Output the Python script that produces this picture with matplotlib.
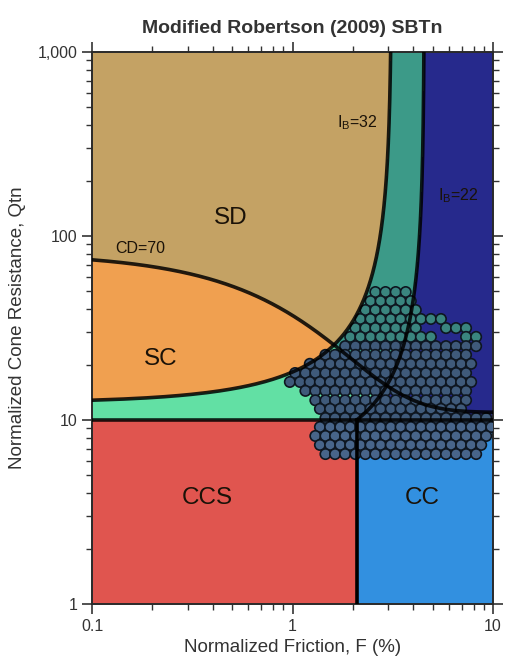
import numpy as np
import matplotlib
matplotlib.use("Agg")
import matplotlib.pyplot as plt
from matplotlib.colors import ListedColormap, BoundaryNorm
from matplotlib.ticker import FixedLocator, FixedFormatter, NullFormatter, LogLocator

# ---------------- text / ticks ----------------
title = "Modified Robertson (2009) SBTn"
x_label = "Normalized Friction, F (%)"
y_label = "Normalized Cone Resistance, Qtn"
x_ticks = [0.1, 1, 10]
x_tick_labels = ["0.1", "1", "10"]
y_ticks = [1, 10, 100, 1000]
y_tick_labels = ["1", "10", "100", "1,000"]

# ---------------- chart boundary parameters ----------------
ib_sand = 32      # IB boundary sand-like / transitional
ib_clay = 22      # IB boundary transitional / clay-like
cd_limit = 70     # CD boundary dilative / contractive
q_split = 10      # horizontal boundary Qtn

zone_names = ["SD", "SC", "TD", "TC", "CD", "CCS", "CC"]
zone_colors = ["#c4a264", "#f0a050", "#3c9a88", "#62e0a4", "#26298c", "#e0554f", "#3290e0"]

# ---------------- CPT data ----------------
qtn_row_levels = [49.6, 44.3, 39.6, 35.4, 31.6, 28.3, 25.2, 22.6, 20.2, 18.0,
                  16.1, 14.4, 12.8, 11.5, 10.25, 9.16, 8.19, 7.32, 6.53]
friction_by_row = [
    [2.59, 2.91, 3.27, 3.67],
    [2.45, 2.75, 3.09, 3.46, 3.89],
    [2.31, 2.59, 2.91, 3.27, 3.67, 4.12],
    [2.18, 2.45, 2.75, 3.09, 3.46, 3.89, 4.37, 4.90, 5.50],
    [2.06, 2.31, 2.59, 2.91, 3.27, 3.67, 4.12, 5.83, 6.54, 7.34],
    [1.94, 2.18, 2.45, 2.75, 3.09, 3.46, 3.89, 4.37, 4.90, 7.34, 8.24],
    [1.83, 2.06, 2.31, 2.59, 2.91, 3.27, 3.67, 4.12, 4.63, 5.19, 5.83, 6.54, 7.34, 8.24],
    [1.46, 1.63, 1.83, 2.06, 2.31, 2.59, 2.91, 3.27, 3.67, 4.12, 4.63, 5.19, 5.83, 6.54, 7.34],
    [1.22, 1.37, 1.54, 1.73, 1.94, 2.18, 2.45, 2.75, 3.09, 3.46, 3.89, 4.37, 4.90, 5.50, 6.18, 6.93, 7.78],
    [1.03, 1.16, 1.30, 1.46, 1.63, 1.83, 2.06, 2.31, 2.59, 2.91, 3.27, 3.67, 4.12, 4.63, 5.19, 5.83, 6.54, 7.34],
    [0.97, 1.09, 1.22, 1.37, 1.54, 1.73, 1.94, 2.18, 2.45, 2.75, 3.09, 3.46, 3.89, 4.37, 4.90, 5.50, 6.18, 6.93, 7.78],
    [1.16, 1.30, 1.46, 1.63, 1.83, 2.06, 2.31, 2.59, 2.91, 3.27, 3.67, 4.12, 4.63, 5.19, 5.83, 6.54, 7.34],
    [1.30, 1.46, 1.63, 1.83, 2.06, 2.31, 2.59, 2.91, 3.27, 3.67, 4.12, 4.63, 5.19, 5.83, 6.54, 7.34],
    [1.37, 1.54, 1.73, 1.94, 2.18, 2.45, 2.75, 3.09, 3.46, 3.89, 4.37, 4.90, 5.50, 6.18, 6.93],
    [1.46, 1.63, 1.83, 2.06, 2.31, 2.59, 2.91, 3.27, 3.67, 4.12, 4.63, 5.19, 5.83, 6.54, 7.34, 8.24, 9.25],
    [1.37, 1.54, 1.73, 1.94, 2.18, 2.45, 2.75, 3.09, 3.46, 3.89, 4.37, 4.90, 5.50, 6.18, 6.93, 7.78, 8.73, 9.80],
    [1.30, 1.46, 1.63, 1.83, 2.06, 2.31, 2.59, 2.91, 3.27, 3.67, 4.12, 4.63, 5.19, 5.83, 6.54, 7.34, 8.24, 9.25],
    [1.37, 1.54, 1.73, 1.94, 2.18, 2.45, 2.75, 3.09, 3.46, 3.89, 4.37, 4.90, 5.50, 6.18, 6.93, 7.78, 8.73],
    [1.46, 1.63, 1.83, 2.06, 2.31, 2.59, 2.91, 3.27, 3.67, 4.12, 4.63, 5.19, 5.83, 6.54, 7.34, 8.24],
]

# ---------------- figure ----------------
plt.rcParams['font.family'] = ['Liberation Sans', 'DejaVu Sans']
fig = plt.figure(figsize=(5.09, 6.69), dpi=100)
ax = fig.add_axes([92 / 509, 65 / 669, 401 / 509, 552 / 669])
ax.set_xscale('log')
ax.set_yscale('log')
ax.set_xlim(0.1, 10)
ax.set_ylim(1, 1000)


def ib_curve_f(q, ib):
    return (100.0 * (q + 10.0) / ib - 70.0) / q


# zone map
fe = np.logspace(-1, 1, 801)
qe = np.logspace(0, 3, 1201)
fc = np.sqrt(fe[:-1] * fe[1:])
qc = np.sqrt(qe[:-1] * qe[1:])
FF, QQ = np.meshgrid(fc, qc)
IB = 100.0 * (QQ + 10.0) / (QQ * FF + 70.0)
CD = (QQ - 11.0) * (1.0 + 0.06 * FF) ** 17
f_split = ib_curve_f(q_split, ib_clay)
zone = np.where(QQ < q_split,
                np.where(FF < f_split, 5, 6),
                np.where(IB > ib_sand, np.where(CD > cd_limit, 0, 1),
                         np.where(IB > ib_clay, np.where(CD > cd_limit, 2, 3), 4)))
cmap = ListedColormap(zone_colors)
norm = BoundaryNorm(np.arange(-0.5, len(zone_colors) + 0.5, 1), cmap.N)
ax.pcolormesh(fe, qe, zone, cmap=cmap, norm=norm, shading='flat', rasterized=True, zorder=0)

# data points
pts_f = []
pts_q = []
for q, row in zip(qtn_row_levels, friction_by_row):
    for f in row:
        pts_f.append(f)
        pts_q.append(q)
pts_f = np.array(pts_f)
pts_q = np.array(pts_q)
face = np.where(pts_q >= 27, '#3a857f', np.where(pts_q > 10, '#3f5a7a', '#48658a'))
ax.scatter(pts_f, pts_q, s=56, c=face, edgecolors='#0e1620', linewidths=1.2, zorder=3)

# boundary lines
lw = 2.6
fl = np.logspace(-1, 1, 600)
ax.plot(fl, 11.0 + cd_limit / (1.0 + 0.06 * fl) ** 17, color='black', lw=lw, zorder=4, alpha=0.85)
q32 = np.logspace(np.log10(12.81), 3, 600)
ax.plot(ib_curve_f(q32, ib_sand), q32, color='black', lw=lw, zorder=4, alpha=0.85)
q22 = np.logspace(1, 3, 600)
ax.plot(ib_curve_f(q22, ib_clay), q22, color='black', lw=lw, zorder=4, alpha=0.85)
ax.plot([0.1, 10], [q_split, q_split], color='black', lw=lw, zorder=4, alpha=0.85)
ax.plot([f_split, f_split], [1, q_split], color='black', lw=lw, zorder=4)

# labels in zones
lab_kw = dict(ha='center', va='center', fontsize=17.5, color='#1a1208', zorder=5)
ax.text(0.49, 125, "SD", **lab_kw)
ax.text(0.22, 21.5, "SC", **lab_kw)
ax.text(0.375, 3.75, "CCS", **lab_kw)
ax.text(4.45, 3.75, "CC", **lab_kw)
small_kw = dict(ha='center', va='center', fontsize=11.5, color='#1a1208', zorder=5)
ax.text(0.175, 85, "CD=70", **small_kw)
ax.text(2.10, 415, r"I$_\mathregular{B}$=32", **small_kw)
ax.text(6.7, 165, r"I$_\mathregular{B}$=22", **small_kw)

# axes styling
ax.xaxis.set_major_locator(FixedLocator(x_ticks))
ax.xaxis.set_major_formatter(FixedFormatter(x_tick_labels))
ax.yaxis.set_major_locator(FixedLocator(y_ticks))
ax.yaxis.set_major_formatter(FixedFormatter(y_tick_labels))
ax.xaxis.set_minor_locator(LogLocator(base=10, subs=np.arange(2, 10)))
ax.yaxis.set_minor_locator(LogLocator(base=10, subs=np.arange(2, 10)))
ax.xaxis.set_minor_formatter(NullFormatter())
ax.yaxis.set_minor_formatter(NullFormatter())
ax.tick_params(which='both', direction='out', top=True, right=True,
               labeltop=False, labelright=False, colors='#333333', labelsize=11.5)
ax.tick_params(which='major', length=7, width=1.2)
ax.tick_params(which='minor', length=4, width=1.0)
for s in ax.spines.values():
    s.set_color('#2a2a2a')
    s.set_linewidth(1.4)

ax.set_xlabel(x_label, fontsize=13.5, color='#333333', labelpad=4)
ax.set_ylabel(y_label, fontsize=13.5, color='#333333', labelpad=8)
ax.set_title(title, fontsize=14, fontweight='bold', color='#333333', pad=14)

fig.savefig("out.png", dpi=100)
